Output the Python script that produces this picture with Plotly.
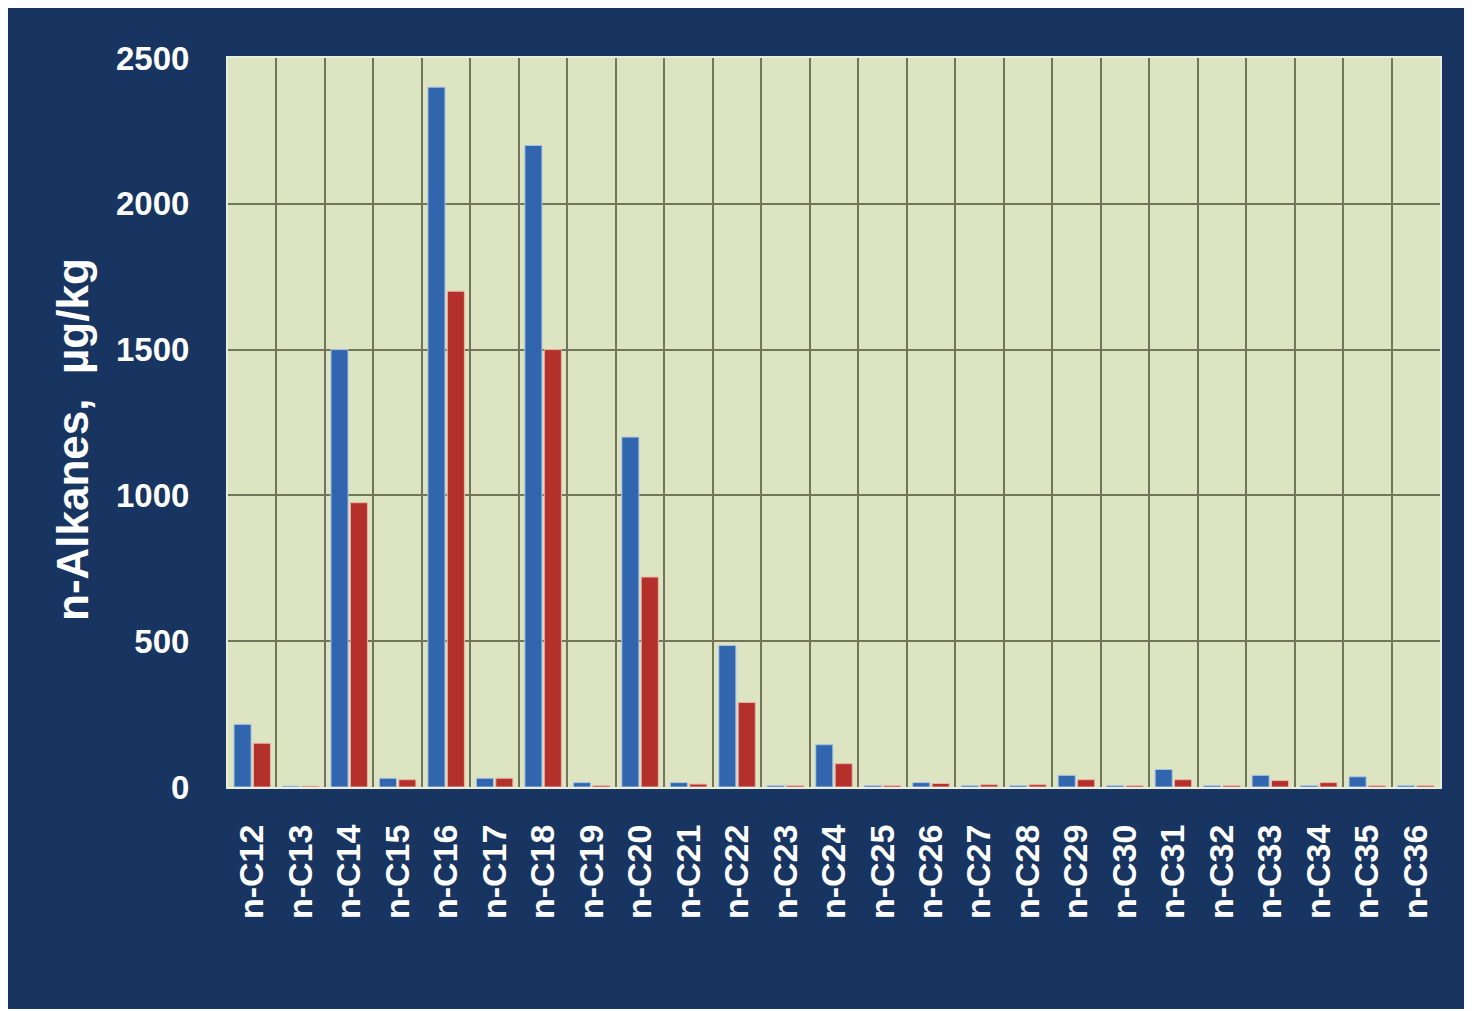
import plotly.graph_objects as go

categories = ["n-C%d" % i for i in range(12, 37)]
series_blue = [215, 3, 1500, 30, 2400, 30, 2200, 15, 1200, 15, 485, 5, 145, 5, 15, 5, 5, 40, 5, 60, 5, 40, 5, 35, 5]
series_red = [150, 3, 975, 25, 1700, 30, 1500, 5, 720, 10, 290, 5, 80, 5, 12, 8, 8, 25, 5, 25, 5, 22, 15, 5, 5]
y_ticks = [0, 500, 1000, 1500, 2000, 2500]
y_title = "n-Alkanes,  µg/kg"

NAVY = "#173560"
PLOT_BG = "#dde4c1"
GRID = "#727559"

fig = go.Figure()
fig.add_trace(go.Bar(x=categories, y=series_blue, name="A",
                     marker=dict(color="#3166ae", line=dict(color="#a9c3e6", width=1))))
fig.add_trace(go.Bar(x=categories, y=series_red, name="B",
                     marker=dict(color="#b3302b", line=dict(color="#eab3a6", width=1))))

W, H = 1464, 1001
L, R, T, B = 220, 32, 50, 222
ph = H - T - B
pw = W - L - R

fig.update_layout(
    width=W, height=H,
    margin=dict(l=L, r=R, t=T, b=B),
    paper_bgcolor=NAVY,
    plot_bgcolor=PLOT_BG,
    barmode="group",
    bargap=0.2,
    bargroupgap=0.12,
    showlegend=False,
    xaxis=dict(
        type="category",
        tickson="boundaries",
        showgrid=True, gridcolor=GRID, gridwidth=1.5,
        tickangle=-90,
        tickfont=dict(family="Liberation Sans, Arial", size=34, color="white", weight="bold"),
        ticklabelstandoff=22,
        showline=True, linecolor="#e9eddc", linewidth=2, mirror=True,
        ticks="",
    ),
    yaxis=dict(
        range=[0, 2500],
        tickvals=y_ticks,
        showgrid=True, gridcolor=GRID, gridwidth=1.5,
        tickfont=dict(family="Liberation Sans, Arial", size=33, color="white", weight="bold"),
        ticklabelstandoff=30,
        showline=True, linecolor="#e9eddc", linewidth=2, mirror=True,
        zeroline=False,
        ticks="",
    ),
    annotations=[dict(
        text=y_title, textangle=-90, showarrow=False,
        xref="paper", yref="paper",
        x=(64 - L) / pw, y=1 - (432 - T) / ph,
        xanchor="center", yanchor="middle",
        font=dict(family="Liberation Sans, Arial", size=44, color="white", weight="bold"),
    )],
)

fig.write_html("out.html")
